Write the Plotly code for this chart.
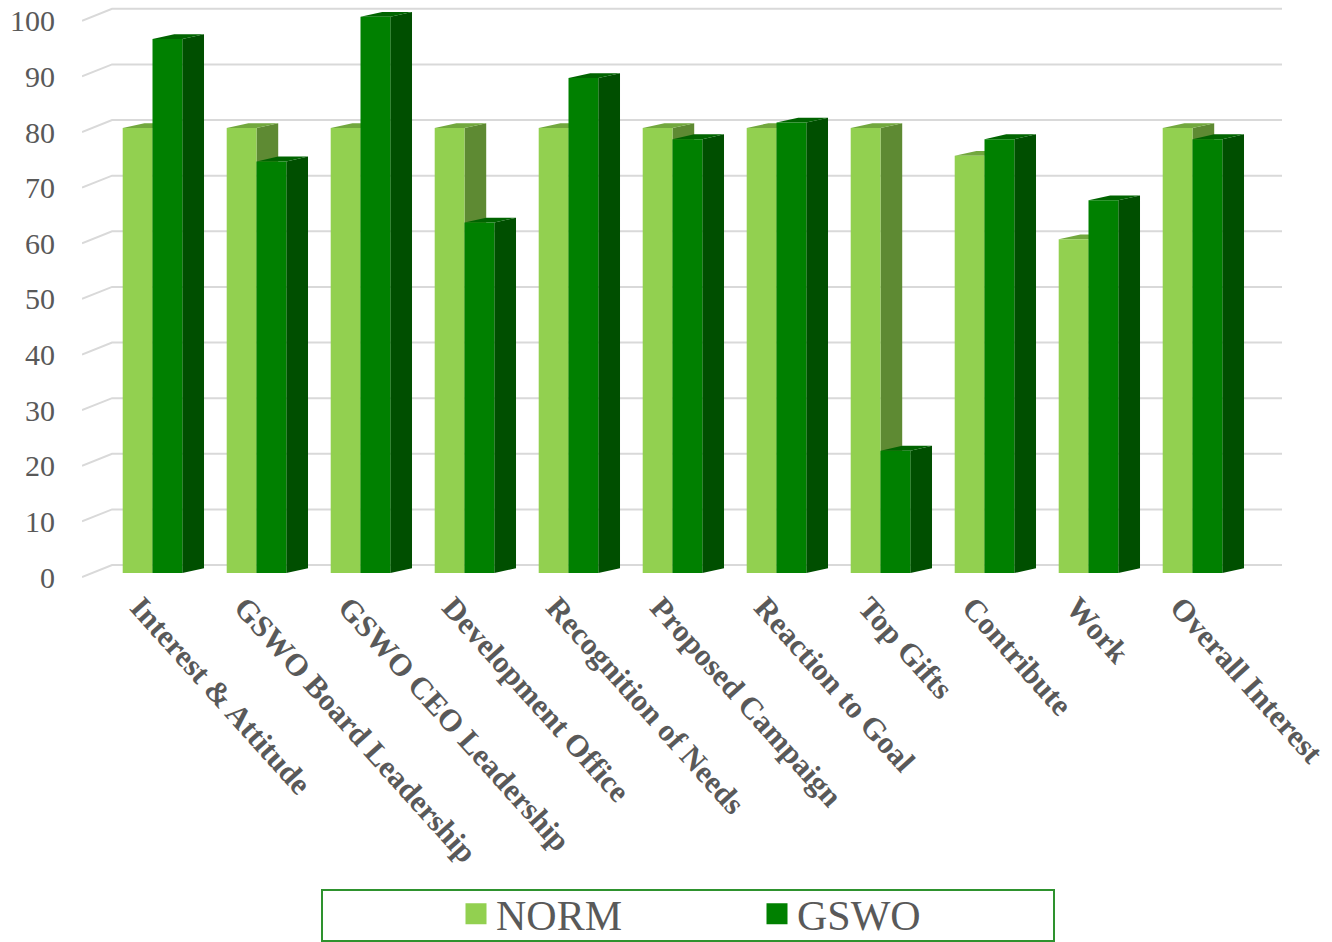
import plotly.graph_objects as go

# ---------------- data ----------------
categories = ["Interest & Attitude", "GSWO Board Leadership", "GSWO CEO Leadership",
              "Development Office", "Recognition of Needs", "Proposed Campaign",
              "Reaction to Goal", "Top Gifts", "Contribute", "Work", "Overall Interest"]
norm = [80, 80, 80, 80, 80, 80, 80, 80, 75, 60, 80]
gswo = [96, 74, 100, 63, 89, 78, 81, 22, 78, 67, 78]
y_ticks = [0, 10, 20, 30, 40, 50, 60, 70, 80, 90, 100]

# ---------------- geometry (styling constants) ----------------
W, H = 1332, 942
ML, MR, MT, MB = 82, 32, 0, 360
PX_PER_CAT = 104.0
PX_PER_VAL = 5.5625
X0_CAT = -0.678            # category coordinate at the left edge of plot area
PLOT_W = W - ML - MR
PLOT_H = H - MT - MB
X1_CAT = X0_CAT + PLOT_W / PX_PER_CAT
V_TOP = 573.0 / PX_PER_VAL
V_BOT = V_TOP - PLOT_H / PX_PER_VAL

BAR_W = 29.8 / PX_PER_CAT
DEP_X = 21.7 / PX_PER_CAT
DEP_Y = 4.8 / PX_PER_VAL
FRONT_DY = -4.0 / PX_PER_VAL
BACK_DY = 8.0 / PX_PER_VAL
WALL_LEFT = -0.389
WALL_RIGHT = (1282 - 152.5) / PX_PER_CAT
LABEL_SHIFT = -0.12

GRID = "#d9d9d9"
TXT = "#595959"
C_NORM = dict(front="#92d050", side="#5e8a33", top="#72a83e")
C_GSWO = dict(front="#008000", side="#004f00", top="#006400")

fig = go.Figure()

# back wall gridlines + front diagonal
gx, gy = [], []
for t in y_ticks:
    gx += [X0_CAT, WALL_LEFT, WALL_RIGHT, None]
    gy += [t + FRONT_DY, t + BACK_DY, t + BACK_DY, None]
fig.add_trace(go.Scatter(x=gx, y=gy, mode="lines", line=dict(color=GRID, width=2),
                         hoverinfo="skip", showlegend=False))


def faces(values, offset):
    fx, fy, sx, sy, tx, ty = [], [], [], [], [], []
    for i, v in enumerate(values):
        a = i + offset
        b = a + BAR_W
        fx += [a, b, b, a, a, None]
        fy += [0, 0, v, v, 0, None]
        sx += [b, b + DEP_X, b + DEP_X, b, b, None]
        sy += [0, DEP_Y, v + DEP_Y, v, 0, None]
        tx += [a, b, b + DEP_X, a + DEP_X, a, None]
        ty += [v, v, v + DEP_Y, v + DEP_Y, v, None]
    return (fx, fy), (sx, sy), (tx, ty)


for name, vals, off, col in [("NORM", norm, -BAR_W, C_NORM), ("GSWO", gswo, 0.0, C_GSWO)]:
    (fx, fy), (sx, sy), (tx, ty) = faces(vals, off)
    for (xx, yy, c) in [(sx, sy, col["side"]), (tx, ty, col["top"]), (fx, fy, col["front"])]:
        fig.add_trace(go.Scatter(x=xx, y=yy, mode="lines", fill="toself", fillcolor=c,
                                 line=dict(width=0, color=c), hoverinfo="skip",
                                 showlegend=False))
    # legend entry
    fig.add_trace(go.Scatter(x=[None], y=[None], mode="markers", name=name,
                             marker=dict(symbol="square", size=16, color=col["front"],
                                         line=dict(width=5, color=col["front"]))))


def px_to_paper_x(p):
    return (p - ML) / PLOT_W


def px_to_paper_y(p):
    return (MT + PLOT_H - p) / PLOT_H


# legend border
fig.add_shape(type="rect", xref="paper", yref="paper",
              x0=px_to_paper_x(322), x1=px_to_paper_x(1054),
              y0=px_to_paper_y(941), y1=px_to_paper_y(890),
              line=dict(color="#2e922e", width=2), fillcolor="rgba(0,0,0,0)")

fig.update_layout(
    width=W, height=H,
    margin=dict(l=ML, r=MR, t=MT, b=MB, autoexpand=False),
    paper_bgcolor="white", plot_bgcolor="white",
    font=dict(family="Liberation Serif", color=TXT),
    xaxis=dict(range=[X0_CAT, X1_CAT], tickmode="array",
               tickvals=[i + LABEL_SHIFT for i in range(len(categories))],
               ticktext=categories, tickangle=48, ticklabeloverflow="allow",
               tickfont=dict(size=31, family="Liberation Serif", color=TXT, weight="bold"),
               showgrid=False, zeroline=False, showline=False, ticks="", automargin=False),
    yaxis=dict(range=[V_BOT, V_TOP], tickmode="array",
               tickvals=[t + FRONT_DY for t in y_ticks], ticktext=[str(t) for t in y_ticks],
               tickfont=dict(size=30, family="Liberation Serif", color=TXT),
               ticklabelstandoff=26,
               showgrid=False, zeroline=False, showline=False, ticks="", automargin=False),
    legend=dict(orientation="h", x=px_to_paper_x(757), xanchor="center",
                y=px_to_paper_y(914), yanchor="middle",
                font=dict(size=42, family="Liberation Serif", color=TXT),
                entrywidth=256, bgcolor="rgba(0,0,0,0)", borderwidth=0),
)

fig.write_html("out.html")
